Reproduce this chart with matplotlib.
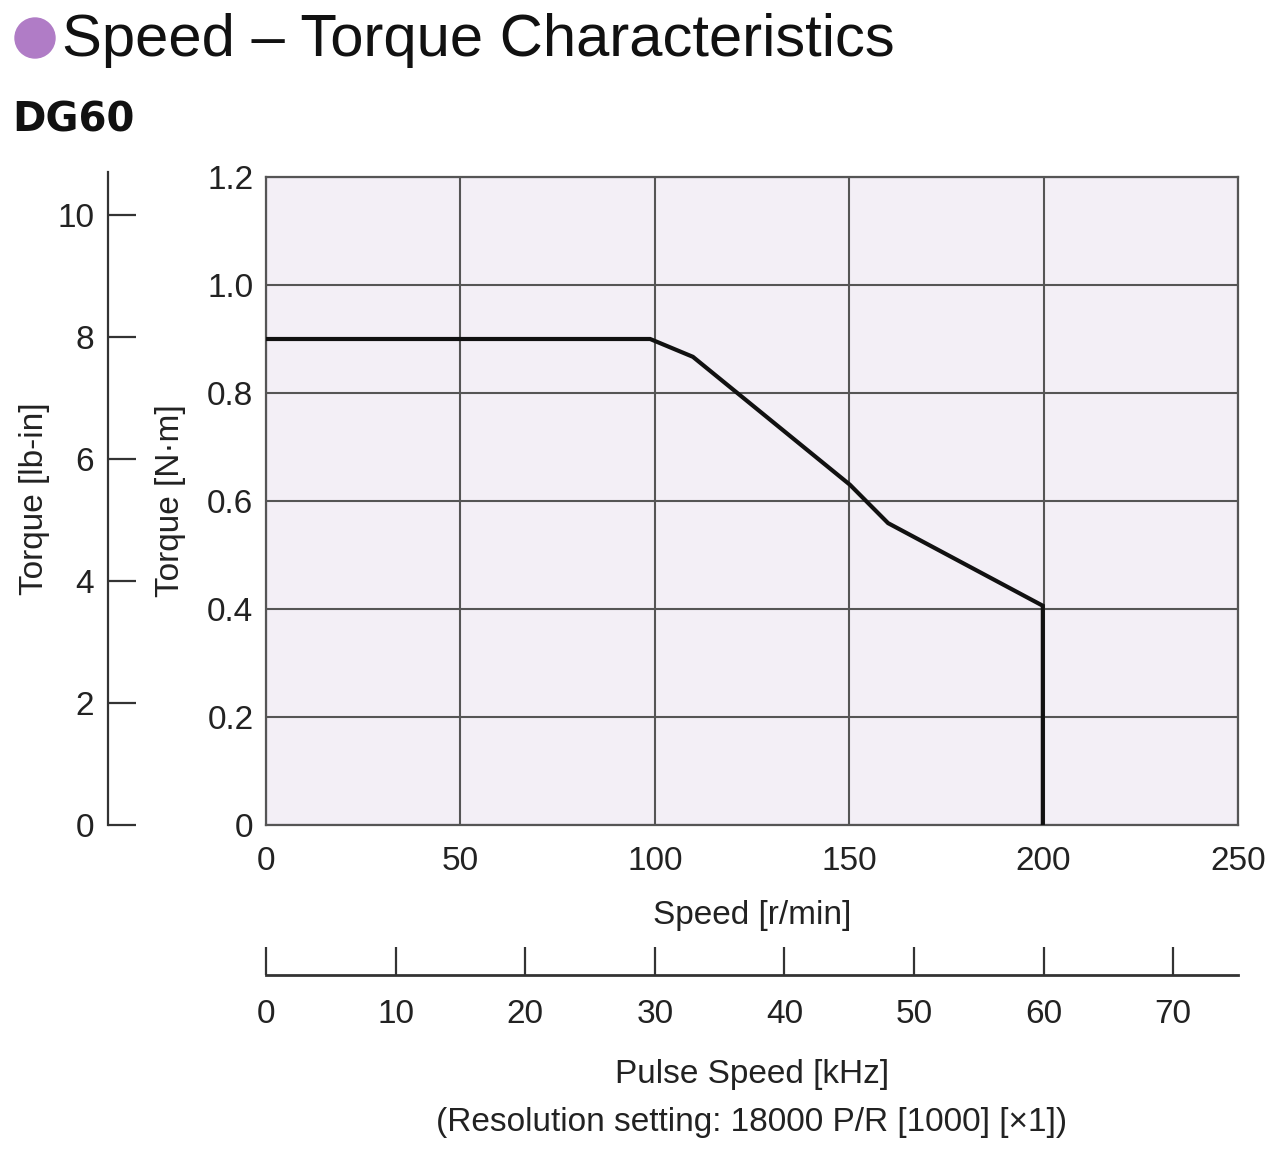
import matplotlib.pyplot as plt
from matplotlib.patches import Ellipse

# curve: speed [r/min], torque [N·m]
speed = [0, 98.8, 109.8, 150.2, 160.0, 199.8, 199.8]
torque = [0.90, 0.90, 0.867, 0.63, 0.559, 0.406, 0.0]

speed_ticks = [0, 50, 100, 150, 200, 250]
nm_ticks = [0, 0.2, 0.4, 0.6, 0.8, 1.0, 1.2]
nm_labels = ['0', '0.2', '0.4', '0.6', '0.8', '1.0', '1.2']
lbin_ticks = [0, 2, 4, 6, 8, 10]
pulse_ticks = [0, 10, 20, 30, 40, 50, 60, 70]

NM_TO_LBIN = 8.851
RPM_TO_KHZ = 0.3   # 200 r/min -> 60 kHz

plt.rcParams['font.family'] = ['Liberation Sans Narrow', 'Liberation Sans', 'DejaVu Sans']

W, H = 1280, 1155
fig = plt.figure(figsize=(W / 100, H / 100), dpi=100)
fig.patch.set_facecolor('white')

def fx(px):
    return px / W

def fy(py):
    return 1 - py / H

grid_col = '#555555'
txt_col = '#222222'
fs = 24

# main axes
ax = fig.add_axes([fx(266), fy(825), fx(1238) - fx(266), fy(177) - fy(825)])
ax.set_facecolor('#f3eff6')
ax.plot(speed, torque, color='#111111', lw=3.0, solid_joinstyle='miter', zorder=3)
ax.set_xlim(0, 250)
ax.set_ylim(0, 1.2)
ax.set_xticks(speed_ticks)
ax.set_yticks(nm_ticks)
ax.set_yticklabels(nm_labels)
ax.grid(True, color=grid_col, lw=1.5)
for s in ax.spines.values():
    s.set_color(grid_col)
    s.set_linewidth(1.6)
ax.tick_params(length=0, labelsize=fs, colors=txt_col)
ax.tick_params(axis='x', pad=15)
ax.tick_params(axis='y', pad=9)
ax.set_xlabel('Speed [r/min]', fontsize=fs, color=txt_col, labelpad=17)
ax.set_ylabel('Torque [N·m]', fontsize=fs, color=txt_col)
ax.yaxis.set_label_coords((186 - 266) / 972, 0.5)

# lb-in axis on the left
axl = fig.add_axes([fx(108), fy(825), 0.0001, fy(172) - fy(825)])
axl.set_ylim(0, (825 - 172) / (825 - 177) * 1.2 * NM_TO_LBIN)
axl.set_xticks([])
axl.set_yticks(lbin_ticks)
for k in ['top', 'right', 'bottom']:
    axl.spines[k].set_visible(False)
axl.spines['left'].set_color('#333333')
axl.spines['left'].set_linewidth(1.6)
axl.tick_params(axis='y', direction='in', length=20, width=1.6, color='#333333',
                labelsize=fs, colors=txt_col, pad=10)
axl.set_ylabel('Torque [lb-in]', fontsize=fs, color=txt_col)
axl.yaxis.set_label_coords((50 - 108) / (W * 0.0001), 0.5)

# pulse speed axis at the bottom
axp = fig.add_axes([fx(266), fy(975), fx(1238) - fx(266), 0.0001])
axp.set_xlim(0, 250 * RPM_TO_KHZ)
axp.set_yticks([])
axp.set_xticks(pulse_ticks)
for k in ['top', 'right', 'left']:
    axp.spines[k].set_visible(False)
axp.spines['bottom'].set_color('#333333')
axp.spines['bottom'].set_linewidth(2.0)
axp.tick_params(axis='x', direction='in', length=20, width=1.6, color='#333333',
                labelsize=fs, colors=txt_col, pad=17)
axp.set_xlabel('Pulse Speed [kHz]\n(Resolution setting: 18000 P/R [1000] [×1])',
               fontsize=fs, color=txt_col, labelpad=21, linespacing=1.7)

# titles
fig.add_artist(Ellipse((fx(35), fy(38)), 40 / W, 40 / H, color='#b07cc6',
                       transform=fig.transFigure))
fig.text(fx(62), fy(40), 'Speed – Torque Characteristics', fontsize=43,
         family=['Liberation Sans', 'DejaVu Sans'], color='#111111',
         ha='left', va='center')
fig.text(fx(12), fy(121), 'DG60', fontsize=29, fontweight='bold',
         family=['DejaVu Sans'], color='#111111', ha='left', va='center')

fig.savefig('out.png', dpi=100)
